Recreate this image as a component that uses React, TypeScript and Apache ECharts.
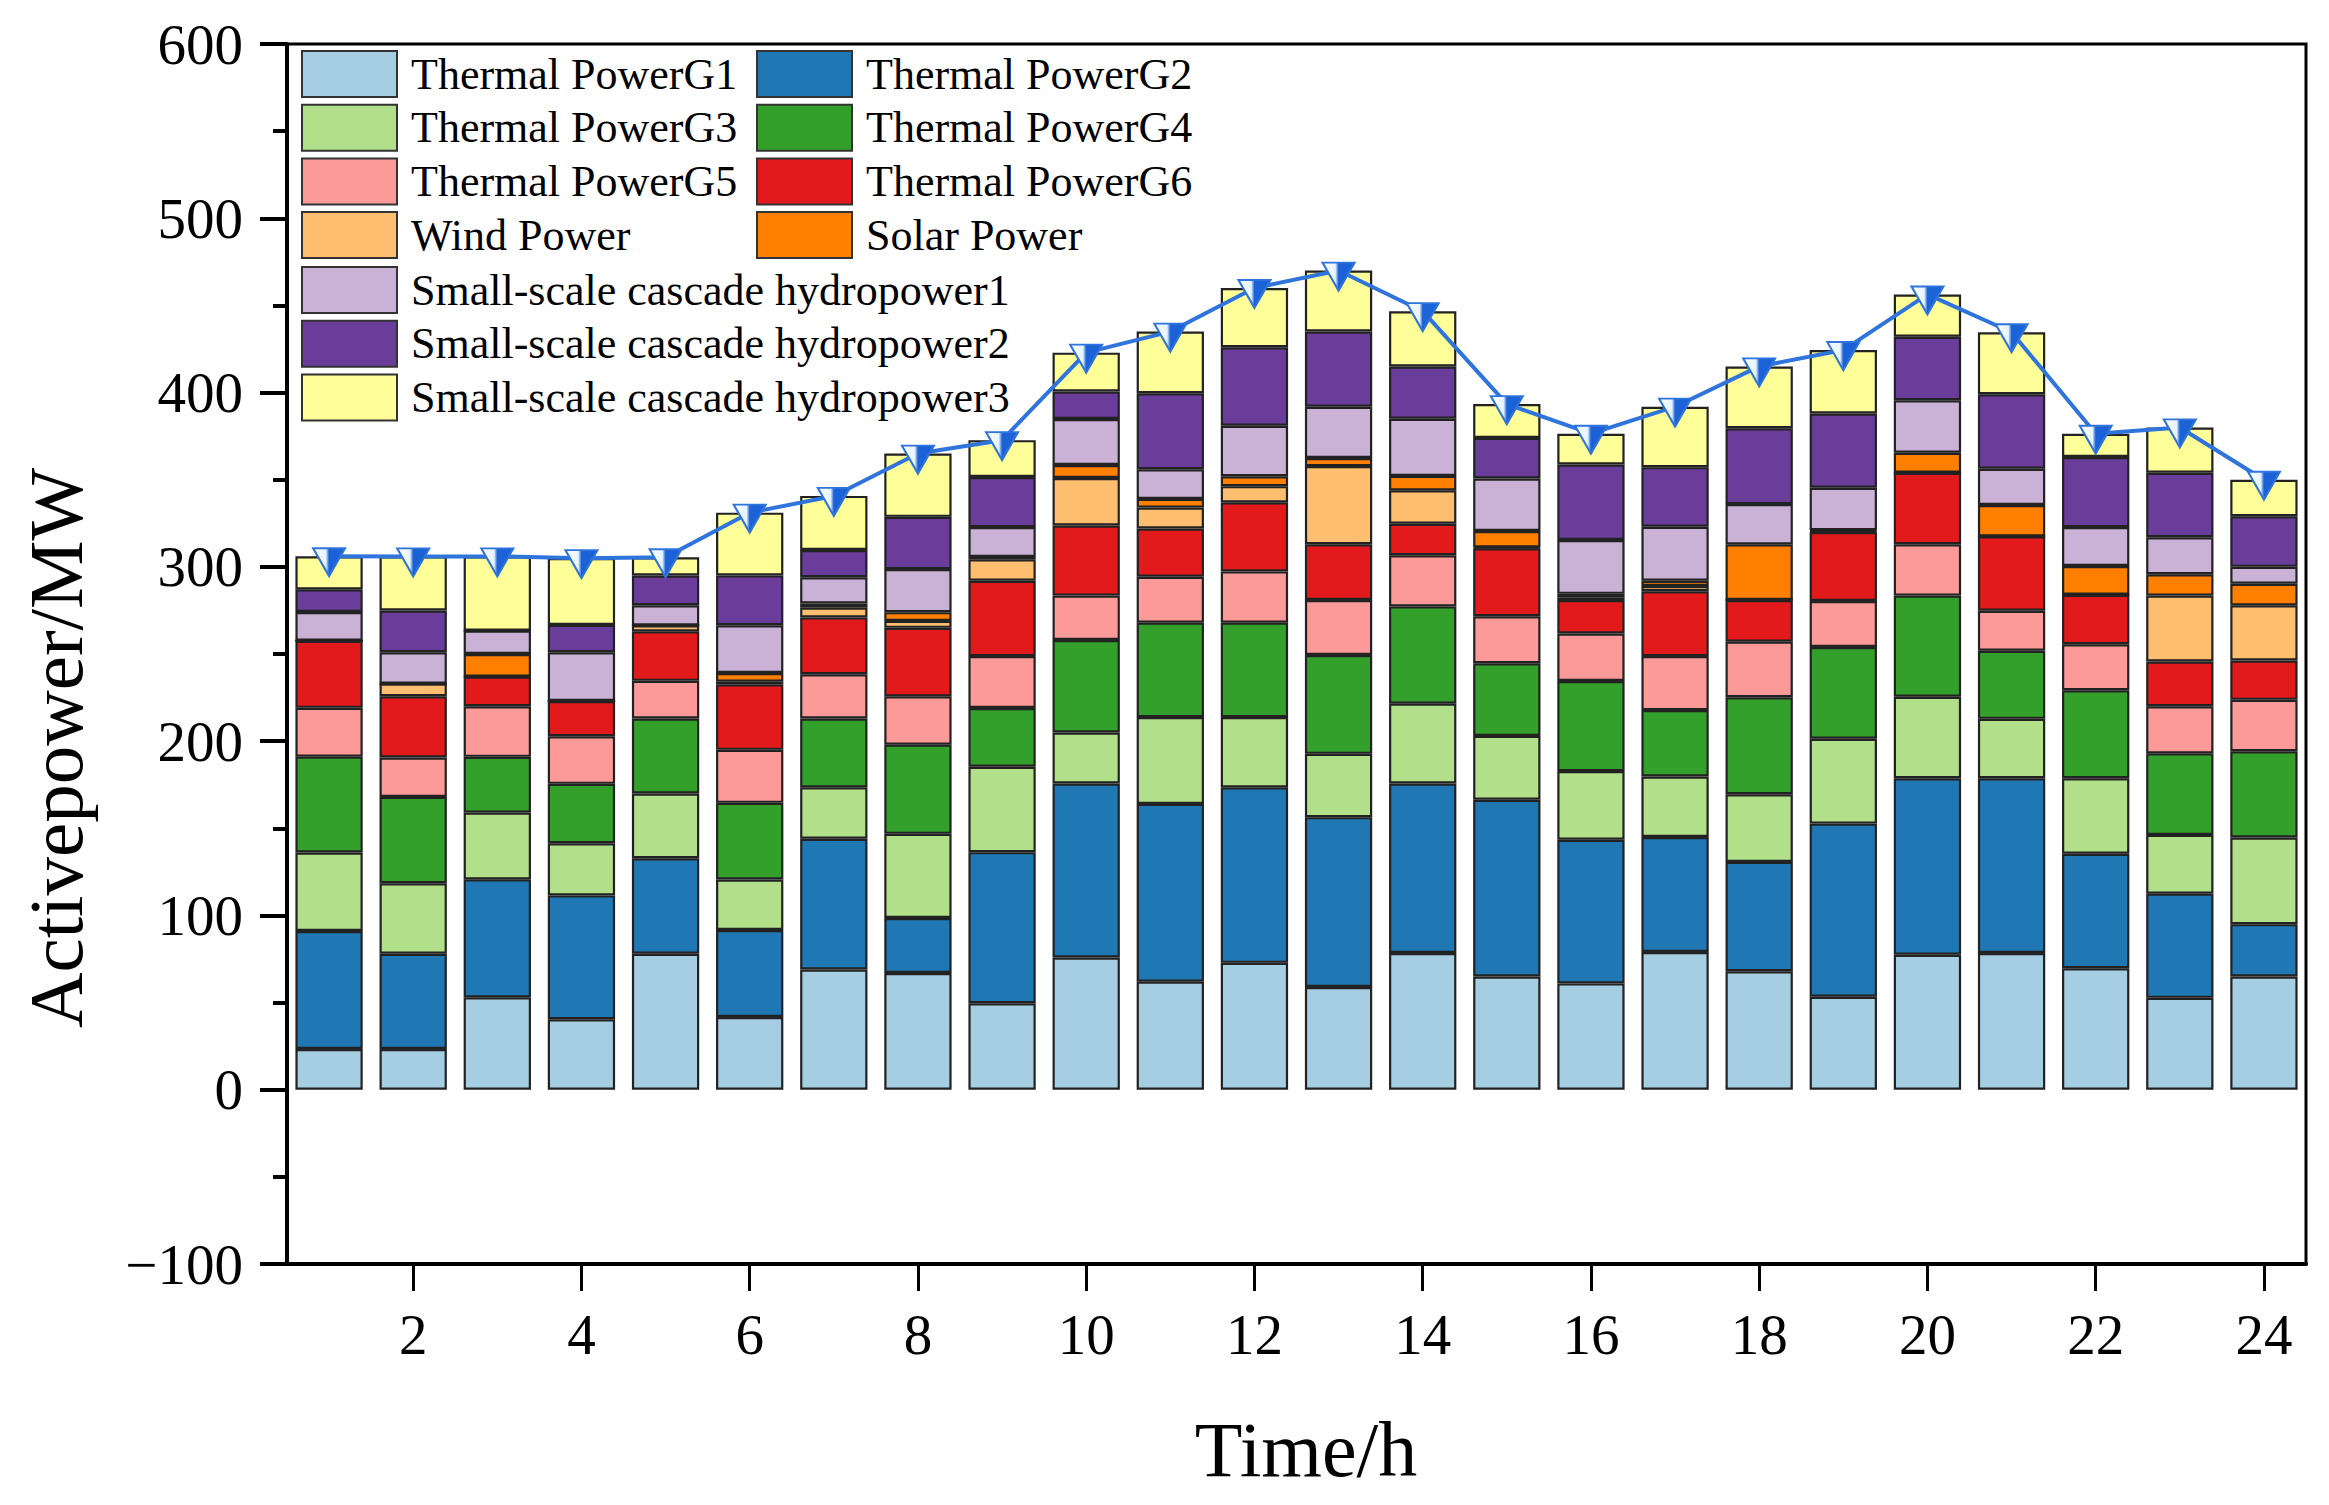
import React, { useEffect, useRef } from "react";
import * as echarts from "echarts";

const hours = Array.from({ length: 24 }, (_, i) => String(i + 1));

const thermalG1 = [23.4, 23.4, 53, 40.4, 78, 41.7, 69, 67, 49.6, 75.9, 62, 72.8, 58.9, 78.4, 65, 61, 79, 68, 53.3, 77.4, 78.4, 69.7, 52.7, 65];
const thermalG2 = [67.7, 54.6, 67.7, 71.1, 54.8, 49.9, 75, 31.5, 86.7, 99.8, 102, 100.7, 97.5, 97.3, 101.4, 82.4, 66, 62.7, 99.4, 101.3, 100.3, 65.7, 59.8, 30];
const thermalG3 = [45, 40.5, 38.3, 29.9, 37.2, 29, 29.5, 48.3, 49, 29.3, 49.8, 40.3, 36.3, 45.8, 36.6, 39.4, 34.7, 38.8, 48.7, 46.8, 34.1, 43.3, 33.7, 49.7];
const thermalG4 = [55, 49.5, 32, 34.1, 43, 44, 39.5, 51.2, 33.7, 53, 54.2, 54.2, 56.7, 55.8, 41.7, 51.7, 38.1, 55.7, 52.6, 58, 39.1, 50.5, 46.8, 49.5];
const thermalG5 = [28, 22.6, 29, 27.3, 21.6, 30.4, 25.4, 27.7, 29.8, 25.5, 26.3, 29.4, 31.6, 29.4, 27, 27.3, 31, 31.9, 26.4, 29.5, 22.9, 26.4, 27, 29.5];
const thermalG6 = [38.5, 35.2, 17, 20.2, 28.4, 37.6, 32.6, 39.3, 43.2, 40.2, 27.7, 39.6, 32, 18, 39, 19.2, 37.2, 23.9, 39.6, 41, 42.7, 28.4, 25.7, 22.6];
const windPower = [0, 7.2, 0, 0, 3.4, 1.5, 5.6, 4, 12.4, 27.3, 12, 9.3, 44.8, 19.2, 0.5, 1.5, 3, 0, 0.5, 0, 0, 0, 37.8, 31.6];
const solarPower = [0, 0, 13, 0, 0, 5, 2.4, 5, 1.3, 7.4, 5, 5.7, 4.7, 8.3, 9.4, 2, 3, 31.9, 0.5, 11.5, 18, 16.5, 12.3, 12.4];
const hydro1 = [16.5, 18, 13.4, 28, 11.6, 27.4, 15, 24.7, 17.1, 26.4, 17, 29, 29.4, 32.8, 30.1, 30.9, 31, 23.1, 24.4, 30.1, 20.8, 22.3, 21.2, 9.7];
const hydro2 = [13, 24, 0, 15.7, 17, 28.6, 15.7, 30, 28.8, 15.8, 43.6, 45, 43.1, 30, 23.3, 43.3, 34.2, 43.5, 42.6, 36.4, 42.7, 40.2, 37, 29];
const hydro3 = [19, 31, 42.6, 38.3, 10.5, 36, 31, 36.3, 21.1, 22.3, 35.4, 34, 35, 31.7, 19.4, 17.7, 34.7, 35.5, 36.4, 24.3, 35.6, 13.4, 26, 21];

const seriesNames = [
  "Thermal PowerG1",
  "Thermal PowerG2",
  "Thermal PowerG3",
  "Thermal PowerG4",
  "Thermal PowerG5",
  "Thermal PowerG6",
  "Wind Power",
  "Solar Power",
  "Small-scale cascade hydropower1",
  "Small-scale cascade hydropower2",
  "Small-scale cascade hydropower3",
];
const seriesData = [thermalG1, thermalG2, thermalG3, thermalG4, thermalG5, thermalG6, windPower, solarPower, hydro1, hydro2, hydro3];
const seriesColors = ["#a6cee3", "#1f78b4", "#b2df8a", "#33a02c", "#fb9a99", "#e31a1c", "#fdbf6f", "#ff7f00", "#cab2d6", "#6a3d9a", "#ffff99"];

const yTicks = { min: -100, max: 600, interval: 100 };

const FONT = '"Liberation Serif", "Times New Roman", serif';

export default function App() {
  const ref = useRef<HTMLDivElement>(null);
  useEffect(() => {
    if (!ref.current) return;
    const chart = echarts.init(ref.current, undefined, { renderer: "svg" });
    const totals = hours.map((_, i) => +seriesData.reduce((s, arr) => s + arr[i], 0).toFixed(1));

    const barSeries = seriesNames.map((name, k) => ({
      name,
      type: "bar",
      stack: "total",
      barWidth: "80%",
      data: seriesData[k],
      itemStyle: { color: seriesColors[k], borderColor: "#222", borderWidth: 2.2 },
    }));

    const legendCommon = {
      orient: "vertical",
      padding: 0,
      itemWidth: 95,
      itemHeight: 46,
      itemGap: 5.7,
      icon: "rect",
      itemStyle: { borderColor: "#333", borderWidth: 2 },
      textStyle: { fontFamily: FONT, fontSize: 44, lineHeight: 46, color: "#000", padding: [0, 0, 0, 9] },
      selectedMode: false,
    };

    const even = (index: number) => index % 2 === 1;

    chart.setOption({
      animation: false,
      backgroundColor: "#fff",
      grid: {
        left: 287,
        right: 23,
        top: 44,
        bottom: 241,
        show: true,
        borderColor: "#000",
        borderWidth: 3,
        backgroundColor: "transparent",
      },
      legend: [
        { ...legendCommon, left: 301, top: 50, data: [seriesNames[0], seriesNames[2], seriesNames[4], seriesNames[6]] },
        { ...legendCommon, left: 756, top: 50, data: [seriesNames[1], seriesNames[3], seriesNames[5], seriesNames[7]] },
        { ...legendCommon, left: 301, top: 266, data: [seriesNames[8], seriesNames[9], seriesNames[10]] },
      ],
      xAxis: {
        type: "category",
        data: hours,
        boundaryGap: true,
        axisLine: { onZero: false, lineStyle: { color: "#000", width: 4 } },
        axisTick: { show: true, alignWithLabel: true, interval: even, length: 27, lineStyle: { color: "#000", width: 3 } },
        axisLabel: { interval: even, margin: 42, fontFamily: FONT, fontSize: 57, color: "#000" },
        splitLine: { show: false },
      },
      yAxis: {
        type: "value",
        min: yTicks.min,
        max: yTicks.max,
        interval: yTicks.interval,
        axisLine: { show: true, lineStyle: { color: "#000", width: 4 } },
        axisTick: { show: true, length: 27, lineStyle: { color: "#000", width: 4 } },
        minorTick: { show: true, splitNumber: 2, length: 14, lineStyle: { color: "#000", width: 4 } },
        axisLabel: {
          margin: 44,
          fontFamily: FONT,
          fontSize: 57,
          color: "#000",
          formatter: (v: number) => String(v).replace("-", "\u2212"),
        },
        splitLine: { show: false },
      },
      graphic: [
        {
          type: "text",
          x: 56,
          y: 748,
          rotation: Math.PI / 2,
          style: {
            text: "Activepower/MW",
            fontFamily: FONT,
            fontSize: 77,
            fill: "#000",
            align: "center",
            verticalAlign: "middle",
          },
        },
        {
          type: "text",
          x: 1306,
          y: 1449,
          style: {
            text: "Time/h",
            fontFamily: FONT,
            fontSize: 78,
            fill: "#000",
            align: "center",
            verticalAlign: "middle",
          },
        },
      ],
      series: [
        ...barSeries,
        {
          name: "Total",
          type: "line",
          data: totals,
          z: 10,
          lineStyle: { color: "#2f74dc", width: 4 },
          symbol: "path://M0,0 L10,0 L5,9 Z",
          symbolSize: [32, 28],
          symbolOffset: [0, 6],
          itemStyle: {
            color: new echarts.graphic.LinearGradient(0, 0, 1, 0, [
              { offset: 0, color: "#ffffff" },
              { offset: 0.4, color: "#e6f3ff" },
              { offset: 0.5, color: "#1b62d6" },
              { offset: 1, color: "#1b62d6" },
            ]),
            borderColor: "#2f74dc",
            borderWidth: 2,
          },
        },
      ],
    });
    return () => chart.dispose();
  }, []);
  return <div ref={ref} style={{ position: "fixed", left: 0, top: 0, width: 2329, height: 1505 }} />;
}
